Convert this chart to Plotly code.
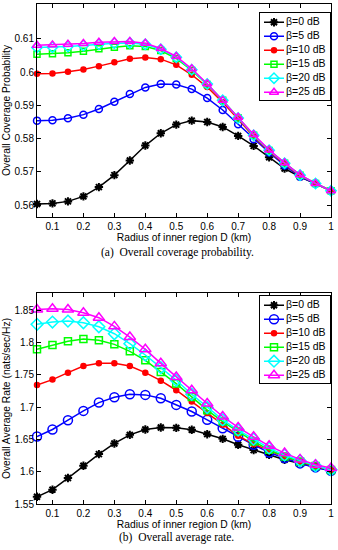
import plotly.graph_objects as go

# ---------------- data ----------------
D = [0.05, 0.10, 0.15, 0.20, 0.25, 0.30, 0.35, 0.40, 0.45, 0.50,
     0.55, 0.60, 0.65, 0.70, 0.75, 0.80, 0.85, 0.90, 0.95, 1.00]

series_names = ["β=0 dB", "β=5 dB", "β=10 dB", "β=15 dB", "β=20 dB", "β=25 dB"]

cov_b0 = [0.5603, 0.5605, 0.5611, 0.5626, 0.5654, 0.5690, 0.5734, 0.5779, 0.5816, 0.5842,
          0.5854, 0.5850, 0.5835, 0.5808, 0.5778, 0.5744, 0.5710, 0.5685, 0.5665, 0.5643]
cov_b5 = [0.5854, 0.5855, 0.5861, 0.5872, 0.5889, 0.5911, 0.5934, 0.5954, 0.5964, 0.5963,
          0.5949, 0.5922, 0.5886, 0.5843, 0.5798, 0.5758, 0.5719, 0.5685, 0.5665, 0.5643]
cov_b10 = [0.5995, 0.5996, 0.6001, 0.6008, 0.6018, 0.6030, 0.6040, 0.6044, 0.6039, 0.6022,
           0.5992, 0.5955, 0.5909, 0.5858, 0.5806, 0.5761, 0.5723, 0.5688, 0.5665, 0.5643]
cov_b15 = [0.6054, 0.6055, 0.6058, 0.6063, 0.6070, 0.6075, 0.6079, 0.6077, 0.6065, 0.6041,
           0.6005, 0.5963, 0.5915, 0.5862, 0.5810, 0.5764, 0.5726, 0.5690, 0.5665, 0.5643]
cov_b20 = [0.6074, 0.6075, 0.6077, 0.6080, 0.6084, 0.6087, 0.6088, 0.6084, 0.6069, 0.6045,
           0.6007, 0.5964, 0.5915, 0.5862, 0.5810, 0.5765, 0.5726, 0.5690, 0.5665, 0.5643]
cov_b25 = [0.6081, 0.6082, 0.6084, 0.6086, 0.6090, 0.6092, 0.6092, 0.6087, 0.6071, 0.6047,
           0.6010, 0.5965, 0.5915, 0.5864, 0.5812, 0.5766, 0.5727, 0.5691, 0.5665, 0.5643]

rate_b0 = [1.5613, 1.5722, 1.5902, 1.6093, 1.6273, 1.6438, 1.6572, 1.6655, 1.6686, 1.6680,
           1.6650, 1.6582, 1.6510, 1.6418, 1.6335, 1.6263, 1.6186, 1.6129, 1.6067, 1.6015]
rate_b5 = [1.6546, 1.6655, 1.6799, 1.6943, 1.7072, 1.7155, 1.7201, 1.7191, 1.7139, 1.7036,
           1.6933, 1.6804, 1.6675, 1.6541, 1.6418, 1.6299, 1.6211, 1.6129, 1.6067, 1.6015]
rate_b10 = [1.7345, 1.7428, 1.7536, 1.7639, 1.7680, 1.7680, 1.7639, 1.7536, 1.7412, 1.7263,
            1.7088, 1.6912, 1.6727, 1.6557, 1.6428, 1.6325, 1.6232, 1.6155, 1.6082, 1.6026]
rate_b15 = [1.7897, 1.7964, 1.8021, 1.8057, 1.8036, 1.7974, 1.7866, 1.7727, 1.7546, 1.7366,
            1.7160, 1.6954, 1.6778, 1.6624, 1.6469, 1.6340, 1.6237, 1.6160, 1.6088, 1.6026]
rate_b20 = [1.8284, 1.8320, 1.8335, 1.8309, 1.8247, 1.8139, 1.7985, 1.7809, 1.7613, 1.7418,
            1.7201, 1.6995, 1.6804, 1.6644, 1.6505, 1.6366, 1.6258, 1.6170, 1.6093, 1.6031]
rate_b25 = [1.8515, 1.8526, 1.8515, 1.8464, 1.8387, 1.8253, 1.8088, 1.7897, 1.7680, 1.7469,
            1.7263, 1.7057, 1.6856, 1.6686, 1.6541, 1.6402, 1.6289, 1.6191, 1.6108, 1.6057]

x_tickvals = [0.1, 0.2, 0.3, 0.4, 0.5, 0.6, 0.7, 0.8, 0.9, 1.0]
x_ticktext = ["0.1", "0.2", "0.3", "0.4", "0.5", "0.6", "0.7", "0.8", "0.9", "1"]
cov_tickvals = [0.56, 0.57, 0.58, 0.59, 0.60, 0.61]
cov_ticktext = ["0.56", "0.57", "0.58", "0.59", "0.6", "0.61"]
rate_tickvals = [1.55, 1.60, 1.65, 1.70, 1.75, 1.80, 1.85]
rate_ticktext = ["1.55", "1.6", "1.65", "1.7", "1.75", "1.8", "1.85"]

cov_series = [cov_b0, cov_b5, cov_b10, cov_b15, cov_b20, cov_b25]
rate_series = [rate_b0, rate_b5, rate_b10, rate_b15, rate_b20, rate_b25]

# ---------------- styles ----------------
colors = ["#000000", "#0000FF", "#FF0000", "#00FF00", "#00FFFF", "#FF00FF"]
symbols = ["asterisk-open", "circle-open", "circle", "square-open", "diamond-open", "triangle-up-open"]
cov_sizes = [7, 7, 5, 6, 8, 8]
rate_sizes = [7, 9, 5, 7, 9, 10]
SANS = "Liberation Sans, Arial, sans-serif"
SERIF = "Liberation Serif, Times New Roman, serif"

W, H = 338, 550


def px_x(p):
    return p / W


def px_y(p):
    return (H - p) / H


fig = go.Figure()


def add_series(xa, ya, series, sizes):
    for i, vals in enumerate(series):
        fig.add_trace(go.Scatter(
            x=D, y=vals, mode="lines+markers", xaxis=xa, yaxis=ya, cliponaxis=False,
            line=dict(color=colors[i], width=1.5),
            marker=dict(symbol=symbols[i], size=sizes[i], color=colors[i],
                        line=dict(color=colors[i], width=1.5 if i != 0 else 2)),
            showlegend=False, hoverinfo="skip"))


add_series("x", "y", cov_series, cov_sizes)
add_series("x2", "y2", rate_series, rate_sizes)

# custom legends (box height in px, rows at fixed pixel offsets)
LEG_W, LEG_H = 70, 87
row_y = [9.5 + 14 * k for k in range(6)]


def add_legend(xa, ya, sizes):
    for i, nm in enumerate(series_names):
        fig.add_trace(go.Scatter(
            x=[4, 14, 24], y=[row_y[i]] * 3, mode="lines+markers", xaxis=xa, yaxis=ya,
            line=dict(color=colors[i], width=1.5),
            marker=dict(symbol=symbols[i], size=sizes[i], color=colors[i], opacity=[0, 1, 0],
                        line=dict(color=colors[i], width=1.5 if i != 0 else 2)),
            showlegend=False, hoverinfo="skip"))
    fig.add_trace(go.Scatter(
        x=[26] * 6, y=row_y, text=series_names, mode="text", textposition="middle right",
        textfont=dict(family=SANS, size=10.5, color="black"),
        xaxis=xa, yaxis=ya, showlegend=False, hoverinfo="skip"))


add_legend("x3", "y3", cov_sizes)
add_legend("x4", "y4", rate_sizes)

ax_common = dict(showgrid=False, zeroline=False, showline=True, linecolor="black", linewidth=1,
                 mirror="ticks", ticks="inside", ticklen=4, tickcolor="black", tickwidth=1,
                 automargin=False,
                 tickfont=dict(family=SANS, size=10, color="black"))

x_dom = [px_x(37), px_x(331)]
leg_xdom = [px_x(260), px_x(330)]
legbox = dict(showgrid=False, zeroline=False, showline=True, linecolor="black", linewidth=1,
              mirror=True, ticks="", showticklabels=False, fixedrange=True, automargin=False)

fig.update_layout(
    width=W, height=H, margin=dict(l=0, r=0, t=0, b=0, autoexpand=False),
    paper_bgcolor="white", plot_bgcolor="white",
    xaxis=dict(ax_common, domain=x_dom, anchor="y", range=[0.05, 1.0],
               tickvals=x_tickvals, ticktext=x_ticktext,
               title=dict(text="Radius of inner region D (km)", standoff=0,
                          font=dict(family=SANS, size=10.3, color="black"))),
    yaxis=dict(ax_common, domain=[px_y(217), px_y(4)], anchor="x", range=[0.5564, 0.6205],
               tickvals=cov_tickvals, ticktext=cov_ticktext,
               title=dict(text="Overall Coverage Probability", standoff=1,
                          font=dict(family=SANS, size=10.3, color="black"))),
    xaxis2=dict(ax_common, domain=x_dom, anchor="y2", range=[0.05, 1.0],
                tickvals=x_tickvals, ticktext=x_ticktext,
                title=dict(text="Radius of inner region D (km)", standoff=0,
                           font=dict(family=SANS, size=10.3, color="black"))),
    yaxis2=dict(ax_common, domain=[px_y(504), px_y(293)], anchor="x2", range=[1.55, 1.877],
                tickvals=rate_tickvals, ticktext=rate_ticktext,
                title=dict(text="Overall Average Rate (nats/sec/Hz)", standoff=1,
                           font=dict(family=SANS, size=10.3, color="black"))),
    xaxis3=dict(legbox, domain=leg_xdom, anchor="y3", range=[0, LEG_W]),
    yaxis3=dict(legbox, domain=[px_y(12.7 + LEG_H), px_y(12.7)], anchor="x3", range=[LEG_H, 0]),
    xaxis4=dict(legbox, domain=leg_xdom, anchor="y4", range=[0, LEG_W]),
    yaxis4=dict(legbox, domain=[px_y(295.7 + LEG_H), px_y(295.7)], anchor="x4", range=[LEG_H, 0]),
    annotations=[
        dict(text="(a)\u00a0\u00a0Overall coverage probability.", xref="paper", yref="paper",
             x=px_x(177), y=px_y(252.7), xanchor="center", yanchor="middle", showarrow=False,
             font=dict(family=SERIF, size=11.5, color="black")),
        dict(text="(b)\u00a0\u00a0Overall average rate.", xref="paper", yref="paper",
             x=px_x(176), y=px_y(537.7), xanchor="center", yanchor="middle", showarrow=False,
             font=dict(family=SERIF, size=11.5, color="black")),
    ],
)

fig.write_html("out.html", config={"displayModeBar": False, "staticPlot": True},
               post_script="document.body.style.margin='0';document.body.style.overflow='hidden';")
